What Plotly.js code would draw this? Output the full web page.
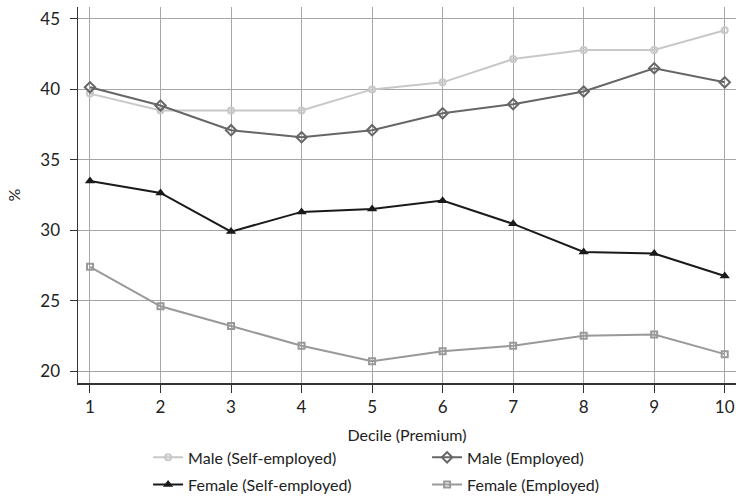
<!DOCTYPE html>
<html>
<head>
<meta charset="utf-8">
<script src="https://cdn.plot.ly/plotly-3.0.1.min.js"></script>
<style>html,body{margin:0;padding:0;background:#fff;}#chart{width:736px;height:502px;}</style>
</head>
<body>
<div id="chart"></div>
<script>
var deciles = [1, 2, 3, 4, 5, 6, 7, 8, 9, 10];
var tickLabels = ["1", "2", "3", "4", "5", "6", "7", "8", "9", "10"];
var maleSelf = [39.7, 38.5, 38.5, 38.5, 40.0, 40.5, 42.15, 42.8, 42.8, 44.2];
var maleEmp = [40.15, 38.85, 37.1, 36.6, 37.1, 38.3, 38.95, 39.85, 41.5, 40.5];
var femaleSelf = [33.5, 32.65, 29.9, 31.3, 31.5, 32.1, 30.45, 28.45, 28.35, 26.75];
var femaleEmp = [27.4, 24.6, 23.2, 21.8, 20.7, 21.4, 21.8, 22.5, 22.6, 21.2];
var seriesNames = ["Male (Self-employed)", "Male (Employed)", "Female (Self-employed)", "Female (Employed)"];

var traces = [
  {x: deciles, y: maleSelf, name: seriesNames[0], mode: "lines+markers", legend: "legend",
   line: {color: "#c8c8c8", width: 2}, marker: {symbol: "circle-open", size: 6, color: "#c8c8c8", line: {width: 2}}},
  {x: deciles, y: maleEmp, name: seriesNames[1], mode: "lines+markers", legend: "legend",
   line: {color: "#666666", width: 2}, marker: {symbol: "diamond-open", size: 8, color: "#666666", line: {width: 2}}},
  {x: deciles, y: femaleSelf, name: seriesNames[2], mode: "lines+markers", legend: "legend2",
   line: {color: "#1a1a1a", width: 2}, marker: {symbol: "triangle-up", size: 9, color: "#1a1a1a"}},
  {x: deciles, y: femaleEmp, name: seriesNames[3], mode: "lines+markers", legend: "legend2",
   line: {color: "#999999", width: 2}, marker: {symbol: "square-open", size: 6, color: "#999999", line: {width: 2}}}
];

var legendBase = {
  orientation: "h", x: 0.1065, xanchor: "left", yanchor: "middle",
  entrywidth: 234, entrywidthmode: "pixels",
  font: {size: 16}, itemwidth: 30, bgcolor: "rgba(0,0,0,0)"
};

var layout = {
  width: 736, height: 502,
  margin: {l: 78, r: 0, t: 7, b: 119},
  paper_bgcolor: "#ffffff", plot_bgcolor: "#ffffff",
  font: {family: "Lato, 'Open Sans', sans-serif", size: 16, color: "#222222"},
  showlegend: true,
  xaxis: {
    range: [0.83, 10.16], tickvals: deciles, ticktext: tickLabels,
    showgrid: true, gridcolor: "#a6a6a6", gridwidth: 1,
    showline: true, linecolor: "#333333", linewidth: 1.5,
    ticks: "outside", ticklen: 8, tickcolor: "#333333",
    zeroline: false, tickfont: {size: 17},
    title: {text: "Decile (Premium)", font: {size: 16}, standoff: 14}
  },
  yaxis: {
    range: [19.15, 45.85], tickvals: [20, 25, 30, 35, 40, 45],
    showgrid: true, gridcolor: "#a6a6a6", gridwidth: 1,
    showline: true, linecolor: "#333333", linewidth: 1.5,
    ticks: "outside", ticklen: 7, tickcolor: "#333333",
    zeroline: false, tickfont: {size: 17}, ticklabelstandoff: 6,
    title: {text: "%", font: {size: 16}, standoff: 16}
  },
  legend: Object.assign({}, legendBase, {y: -0.198}),
  legend2: Object.assign({}, legendBase, {y: -0.270})
};

Plotly.newPlot("chart", traces, layout, {displayModeBar: false, staticPlot: true});
</script>
</body>
</html>
